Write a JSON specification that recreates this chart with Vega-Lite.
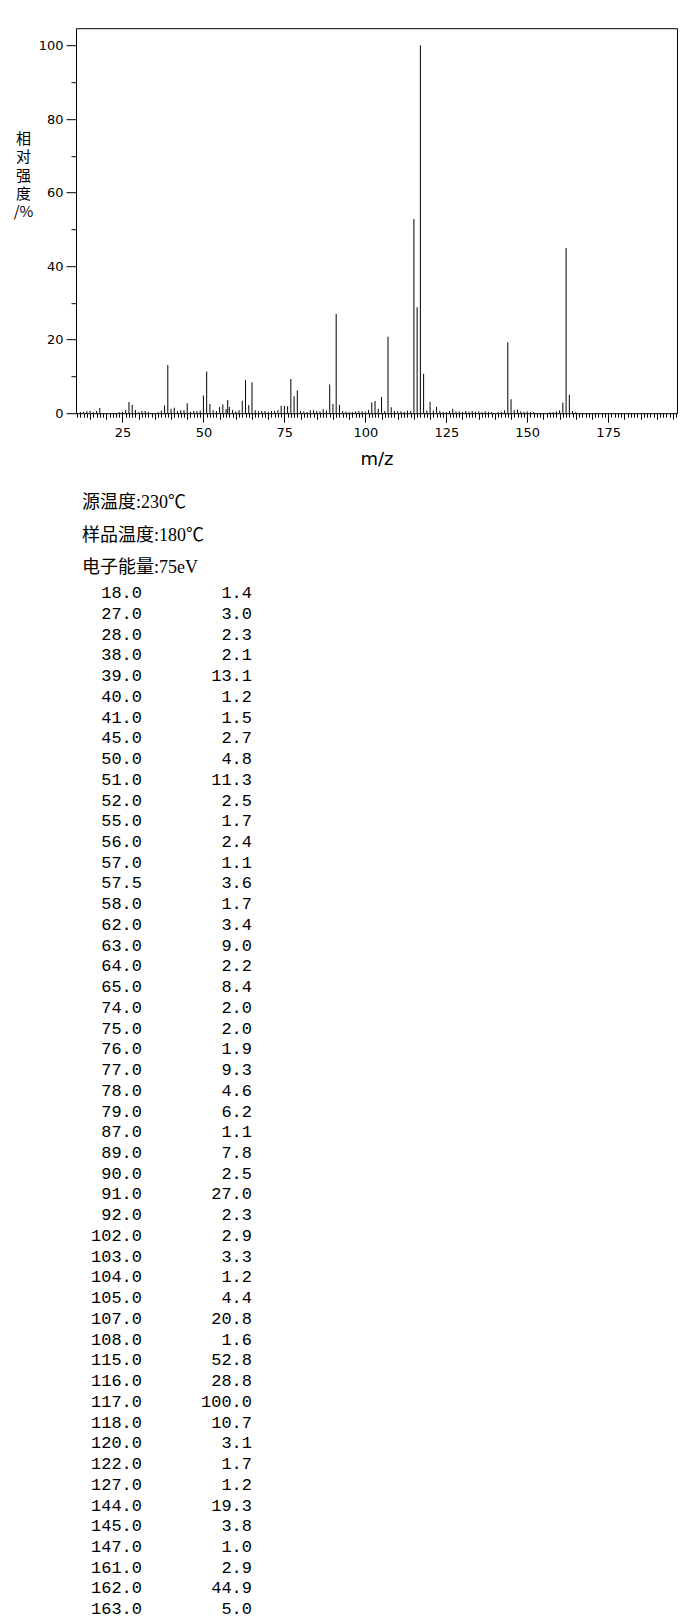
{
  "$schema": "https://vega.github.io/schema/vega-lite/v6.json",
  "background": "white",
  "padding": {"left": 12, "top": 27.2, "right": 0, "bottom": 0},
  "bounds": "flush",
  "spacing": 25,
  "datasets": {
    "peaks": [
      {"mz": 12, "intensity": 0.3}, {"mz": 13, "intensity": 0.4}, {"mz": 14, "intensity": 0.6}, {"mz": 15, "intensity": 0.6},
      {"mz": 16, "intensity": 0.3}, {"mz": 17, "intensity": 0.6}, {"mz": 18, "intensity": 1.4}, {"mz": 24, "intensity": 0.3},
      {"mz": 25, "intensity": 0.4}, {"mz": 26, "intensity": 0.9}, {"mz": 27, "intensity": 3.0}, {"mz": 28, "intensity": 2.3},
      {"mz": 29, "intensity": 0.9}, {"mz": 30, "intensity": 0.3}, {"mz": 31, "intensity": 0.6}, {"mz": 32, "intensity": 0.6},
      {"mz": 33, "intensity": 0.3}, {"mz": 36, "intensity": 0.3}, {"mz": 37, "intensity": 0.7}, {"mz": 38, "intensity": 2.1},
      {"mz": 39, "intensity": 13.1}, {"mz": 40, "intensity": 1.2}, {"mz": 41, "intensity": 1.5}, {"mz": 42, "intensity": 0.6},
      {"mz": 43, "intensity": 0.8}, {"mz": 44, "intensity": 0.8}, {"mz": 45, "intensity": 2.7}, {"mz": 46, "intensity": 0.4},
      {"mz": 47, "intensity": 0.6}, {"mz": 48, "intensity": 0.6}, {"mz": 49, "intensity": 0.7}, {"mz": 50, "intensity": 4.8},
      {"mz": 51, "intensity": 11.3}, {"mz": 52, "intensity": 2.5}, {"mz": 53, "intensity": 0.8}, {"mz": 54, "intensity": 0.6},
      {"mz": 55, "intensity": 1.7}, {"mz": 56, "intensity": 2.4}, {"mz": 57, "intensity": 1.1}, {"mz": 57.5, "intensity": 3.6},
      {"mz": 58, "intensity": 1.7}, {"mz": 59, "intensity": 0.9}, {"mz": 60, "intensity": 0.5}, {"mz": 61, "intensity": 0.8},
      {"mz": 62, "intensity": 3.4}, {"mz": 63, "intensity": 9.0}, {"mz": 64, "intensity": 2.2}, {"mz": 65, "intensity": 8.4},
      {"mz": 66, "intensity": 0.8}, {"mz": 67, "intensity": 0.5}, {"mz": 68, "intensity": 0.6}, {"mz": 69, "intensity": 0.6},
      {"mz": 70, "intensity": 0.4}, {"mz": 71, "intensity": 0.6}, {"mz": 72, "intensity": 0.6}, {"mz": 73, "intensity": 0.8},
      {"mz": 74, "intensity": 2.0}, {"mz": 75, "intensity": 2.0}, {"mz": 76, "intensity": 1.9}, {"mz": 77, "intensity": 9.3},
      {"mz": 78, "intensity": 4.6}, {"mz": 79, "intensity": 6.2}, {"mz": 80, "intensity": 0.6}, {"mz": 81, "intensity": 0.5},
      {"mz": 82, "intensity": 0.3}, {"mz": 83, "intensity": 0.8}, {"mz": 84, "intensity": 0.8}, {"mz": 85, "intensity": 0.6},
      {"mz": 86, "intensity": 0.5}, {"mz": 87, "intensity": 1.1}, {"mz": 88, "intensity": 0.7}, {"mz": 89, "intensity": 7.8},
      {"mz": 90, "intensity": 2.5}, {"mz": 91, "intensity": 27.0}, {"mz": 92, "intensity": 2.3}, {"mz": 93, "intensity": 0.6},
      {"mz": 94, "intensity": 0.4}, {"mz": 95, "intensity": 0.3}, {"mz": 96, "intensity": 0.3}, {"mz": 97, "intensity": 0.5},
      {"mz": 98, "intensity": 0.6}, {"mz": 99, "intensity": 0.5}, {"mz": 100, "intensity": 0.4}, {"mz": 101, "intensity": 0.9},
      {"mz": 102, "intensity": 2.9}, {"mz": 103, "intensity": 3.3}, {"mz": 104, "intensity": 1.2}, {"mz": 105, "intensity": 4.4},
      {"mz": 106, "intensity": 0.6}, {"mz": 107, "intensity": 20.8}, {"mz": 108, "intensity": 1.6}, {"mz": 109, "intensity": 0.6},
      {"mz": 110, "intensity": 0.5}, {"mz": 111, "intensity": 0.5}, {"mz": 112, "intensity": 0.3}, {"mz": 113, "intensity": 0.7},
      {"mz": 114, "intensity": 0.6}, {"mz": 115, "intensity": 52.8}, {"mz": 116, "intensity": 28.8}, {"mz": 117, "intensity": 100.0},
      {"mz": 118, "intensity": 10.7}, {"mz": 119, "intensity": 0.7}, {"mz": 120, "intensity": 3.1}, {"mz": 121, "intensity": 0.7},
      {"mz": 122, "intensity": 1.7}, {"mz": 123, "intensity": 0.6}, {"mz": 124, "intensity": 0.3}, {"mz": 125, "intensity": 0.3},
      {"mz": 126, "intensity": 0.6}, {"mz": 127, "intensity": 1.2}, {"mz": 128, "intensity": 0.5}, {"mz": 129, "intensity": 0.5},
      {"mz": 130, "intensity": 0.3}, {"mz": 131, "intensity": 0.6}, {"mz": 132, "intensity": 0.4}, {"mz": 133, "intensity": 0.6},
      {"mz": 134, "intensity": 0.4}, {"mz": 135, "intensity": 0.5}, {"mz": 136, "intensity": 0.3}, {"mz": 137, "intensity": 0.5},
      {"mz": 138, "intensity": 0.4}, {"mz": 139, "intensity": 0.3}, {"mz": 141, "intensity": 0.3}, {"mz": 142, "intensity": 0.4},
      {"mz": 143, "intensity": 0.8}, {"mz": 144, "intensity": 19.3}, {"mz": 145, "intensity": 3.8}, {"mz": 146, "intensity": 0.8},
      {"mz": 147, "intensity": 1.0}, {"mz": 148, "intensity": 0.5}, {"mz": 149, "intensity": 0.4}, {"mz": 150, "intensity": 0.5},
      {"mz": 151, "intensity": 0.3}, {"mz": 152, "intensity": 0.3}, {"mz": 157, "intensity": 0.3}, {"mz": 158, "intensity": 0.3},
      {"mz": 159, "intensity": 0.5}, {"mz": 160, "intensity": 0.8}, {"mz": 161, "intensity": 2.9}, {"mz": 162, "intensity": 44.9},
      {"mz": 163, "intensity": 5.0}, {"mz": 164, "intensity": 0.6}, {"mz": 165, "intensity": 0.3}
    ]
  },
  "config": {
    "font": "DejaVu Sans",
    "view": {"stroke": null},
    "axis": {"labelColor": "black", "tickColor": "black", "titleColor": "black", "labelFont": "DejaVu Sans", "titleFontWeight": "normal"}
  },
  "vconcat": [
    {
      "width": 601,
      "height": 385,
      "view": {"stroke": "black", "strokeWidth": 1},
      "data": {"name": "peaks"},
      "mark": {"type": "rule", "color": "black", "strokeWidth": 1},
      "encoding": {
        "x": {
          "field": "mz",
          "type": "quantitative",
          "scale": {"domain": [10.65, 196.25], "nice": false, "zero": false},
          "axis": {
            "orient": "bottom",
            "values": [11, 12, 13, 14, 15, 16, 17, 18, 19, 20, 21, 22, 23, 24, 25, 26, 27, 28, 29, 30, 31, 32, 33, 34, 35, 36, 37, 38, 39, 40, 41, 42, 43, 44, 45, 46, 47, 48, 49, 50, 51, 52, 53, 54, 55, 56, 57, 58, 59, 60, 61, 62, 63, 64, 65, 66, 67, 68, 69, 70, 71, 72, 73, 74, 75, 76, 77, 78, 79, 80, 81, 82, 83, 84, 85, 86, 87, 88, 89, 90, 91, 92, 93, 94, 95, 96, 97, 98, 99, 100, 101, 102, 103, 104, 105, 106, 107, 108, 109, 110, 111, 112, 113, 114, 115, 116, 117, 118, 119, 120, 121, 122, 123, 124, 125, 126, 127, 128, 129, 130, 131, 132, 133, 134, 135, 136, 137, 138, 139, 140, 141, 142, 143, 144, 145, 146, 147, 148, 149, 150, 151, 152, 153, 154, 155, 156, 157, 158, 159, 160, 161, 162, 163, 164, 165, 166, 167, 168, 169, 170, 171, 172, 173, 174, 175, 176, 177, 178, 179, 180, 181, 182, 183, 184, 185, 186, 187, 188, 189, 190, 191, 192, 193, 194, 195, 196],
            "grid": false,
            "domain": false,
            "tickSize": {"condition": [{"test": "datum.value % 25 === 0", "value": 9}, {"test": "datum.value % 5 === 0", "value": 6}], "value": 4},
            "labelExpr": "datum.value % 25 === 0 ? datum.label : ''",
            "labelOverlap": false,
            "labelFlush": false,
            "labelBound": false,
            "labelFontSize": 13,
            "labelPadding": 4,
            "title": "m/z",
            "titleFont": "DejaVu Sans",
            "titleFontSize": 18,
            "titlePadding": 11
          }
        },
        "y": {
          "field": "intensity",
          "type": "quantitative",
          "scale": {"domain": [0, 104.7], "nice": false},
          "axis": {
            "orient": "left",
            "values": [0, 10, 20, 30, 40, 50, 60, 70, 80, 90, 100],
            "grid": false,
            "domain": false,
            "tickSize": {"condition": {"test": "datum.value % 20 === 0", "value": 10}, "value": 5},
            "labelExpr": "datum.value % 20 === 0 ? datum.label : ''",
            "labelOverlap": false,
            "labelFlush": false,
            "labelFontSize": 13,
            "labelPadding": 3,
            "title": ["相", "对", "强", "度", "/%"],
            "titleFont": "Noto Sans CJK SC",
            "titleFontSize": 15,
            "titleLineHeight": 18.3,
            "titleAngle": 0,
            "titleAlign": "center",
            "titleBaseline": "middle",
            "titleX": -53,
            "titleY": 110.5
          }
        },
        "y2": {"datum": 0}
      }
    },
    {
      "width": 176,
      "height": 130,
      "data": {"values": [{"text": "源温度:230℃"}, {"text": "样品温度:180℃"}, {"text": "电子能量:75eV"}]},
      "mark": {"type": "text", "align": "left", "baseline": "alphabetic", "dy": 5, "dx": -2, "font": "Liberation Serif, Noto Sans CJK SC", "fontSize": 18, "color": "black"},
      "encoding": {
        "y": {"field": "text", "type": "nominal", "sort": null, "scale": {"type": "point", "padding": 1, "align": 1}, "axis": null},
        "x": {
          "datum": "mz",
          "type": "nominal",
          "bandPosition": 0,
          "scale": {"type": "band", "domain": ["mz", "intensity"], "paddingInner": 0.4727, "paddingOuter": 0.0364, "align": 1},
          "axis": null
        },
        "text": {"field": "text", "type": "nominal"}
      }
    },
    {
      "width": 176,
      "height": 1016,
      "data": {"name": "peaks"},
      "transform": [
        {"filter": "datum.intensity >= 1"},
        {"fold": ["mz", "intensity"]}
      ],
      "mark": {"type": "text", "align": "right", "baseline": "alphabetic", "dy": 5, "font": "Liberation Mono", "fontSize": 17, "color": "black"},
      "encoding": {
        "y": {"field": "mz", "type": "ordinal", "scale": {"type": "point", "padding": 0}, "axis": null},
        "x": {
          "field": "key",
          "type": "nominal",
          "bandPosition": 1,
          "scale": {"type": "band", "domain": ["mz", "intensity"], "paddingInner": 0.4727, "paddingOuter": 0.0364, "align": 1},
          "axis": null
        },
        "text": {"field": "value", "type": "quantitative", "format": ".1f"}
      }
    }
  ]
}
